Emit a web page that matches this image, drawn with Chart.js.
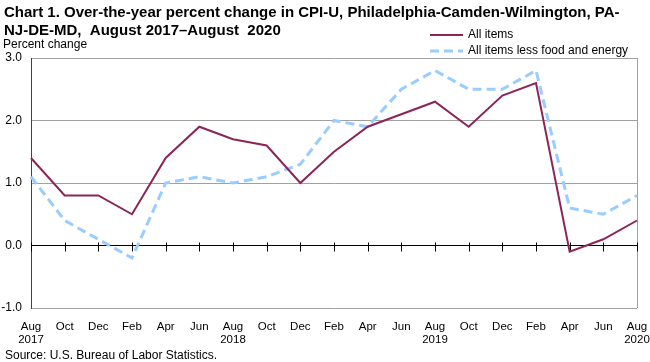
<!DOCTYPE html>
<html>
<head>
<meta charset="utf-8">
<script src="https://cdn.jsdelivr.net/npm/chart.js@4"></script>
<style>
  html, body { margin: 0; padding: 0; background: #fff; }
  #wrap { width: 650px; height: 362px; position: relative; }
</style>
</head>
<body>
<div id="wrap"><canvas id="cpi-chart" width="650" height="362"></canvas></div>
<script>
/* CPI-U Philadelphia, over-the-year change, Aug 2017 – Aug 2020 */
const months    = [['Aug','2017'],'Oct','Dec','Feb','Apr','Jun',['Aug','2018'],'Oct','Dec','Feb','Apr','Jun',['Aug','2019'],'Oct','Dec','Feb','Apr','Jun',['Aug','2020']];
const allItems  = [1.4, 0.8, 0.8, 0.5, 1.4, 1.9, 1.7, 1.6, 1.0, 1.5, 1.9, 2.1, 2.3, 1.9, 2.4, 2.6, -0.1, 0.1, 0.4];
const coreItems = [1.1, 0.4, 0.1, -0.2, 1.0, 1.1, 1.0, 1.1, 1.3, 2.0, 1.9, 2.5, 2.8, 2.5, 2.5, 2.8, 0.6, 0.5, 0.8];
const yTicks    = [-1, 0, 1, 2, 3];

const titleLines = ['Chart 1. Over-the-year percent change in CPI-U, Philadelphia-Camden-Wilmington, PA-',
                    'NJ-DE-MD,  August 2017\u2013August  2020'];
const FONT = "'Liberation Sans', Arial, sans-serif";
const MAROON = '#8B2558', LIGHTBLUE = '#99CCFF';

// titles, legend, source, axis ticks on the zero line, plot frame
const decor = {
  id: 'decor',
  beforeDatasetsDraw(chart) {
    const { ctx, chartArea: a, scales: { x, y } } = chart;
    ctx.save();
    ctx.strokeStyle = '#A0A0A0'; ctx.lineWidth = 1;
    ctx.beginPath();
    ctx.moveTo(a.right + 0.5, a.top); ctx.lineTo(a.right + 0.5, a.bottom);
    ctx.stroke();
    // tick marks across the zero line
    const y0 = Math.round(y.getPixelForValue(0)) + 0.5;
    ctx.strokeStyle = '#000';
    ctx.beginPath();
    months.forEach((m, i) => {
      const px = Math.round(x.getPixelForValue(i)) + 0.5;
      ctx.moveTo(px, y0 - 4); ctx.lineTo(px, y0 + 5);
    });
    ctx.stroke();
    ctx.restore();
  },
  afterDraw(chart) {
    const ctx = chart.ctx;
    ctx.save();
    ctx.fillStyle = '#000';
    ctx.textBaseline = 'alphabetic';
    ctx.font = `bold 15px ${FONT}`;
    ctx.fillText(titleLines[0], 4, 17);
    ctx.fillText(titleLines[1], 4, 35);
    ctx.font = `12px ${FONT}`;
    ctx.fillText('Percent change', 3, 48);
    ctx.fillText('Source: U.S. Bureau of Labor Statistics.', 5, 359);
    // legend
    const items = [
      { label: 'All items', color: MAROON, width: 2, dash: [] , y: 35 },
      { label: 'All items less food and energy', color: LIGHTBLUE, width: 3, dash: [9, 5], y: 51 },
    ];
    items.forEach(it => {
      ctx.strokeStyle = it.color; ctx.lineWidth = it.width; ctx.setLineDash(it.dash);
      ctx.beginPath(); ctx.moveTo(430, it.y); ctx.lineTo(463, it.y); ctx.stroke();
      ctx.setLineDash([]);
      ctx.textBaseline = 'middle';
      ctx.fillText(it.label, 468, it.y);
    });
    ctx.restore();
  }
};

new Chart(document.getElementById('cpi-chart'), {
  type: 'line',
  data: {
    labels: months,
    datasets: [
      { label: 'All items', data: allItems, borderColor: MAROON, borderWidth: 2,
        pointRadius: 0, tension: 0, fill: false },
      { label: 'All items less food and energy', data: coreItems, borderColor: LIGHTBLUE,
        borderWidth: 3, borderDash: [9, 5], pointRadius: 0, tension: 0, fill: false },
    ]
  },
  options: {
    responsive: false, animation: false,
    layout: { padding: { top: 58, right: 13, left: 0, bottom: 0 } },
    plugins: { legend: { display: false }, title: { display: false }, tooltip: { enabled: false } },
    scales: {
      x: {
        offset: false,
        grid: { display: false, drawTicks: false },
        border: { display: false },
        ticks: { color: '#000', font: { family: FONT, size: 11.5, lineHeight: 1.1 }, padding: 13,
                 maxRotation: 0, autoSkip: false },
        afterFit: s => { s.height = 54; s.paddingLeft = 0; s.paddingRight = 0; }
      },
      y: {
        min: -1, max: 3,
        afterBuildTicks: s => { s.ticks = yTicks.map(v => ({ value: v })); },
        grid: { drawTicks: false, color: c => c.tick && c.tick.value === 0 ? '#000' : '#A0A0A0', lineWidth: 1 },
        border: { display: true, color: '#404040', width: 1 },
        ticks: { color: '#000', font: { family: FONT, size: 12 }, padding: 9,
                 callback: v => v.toFixed(1) },
        afterFit: s => { s.width = 31; s.paddingTop = 0; s.paddingBottom = 0; }
      }
    }
  },
  plugins: [decor]
});
</script>
</body>
</html>
